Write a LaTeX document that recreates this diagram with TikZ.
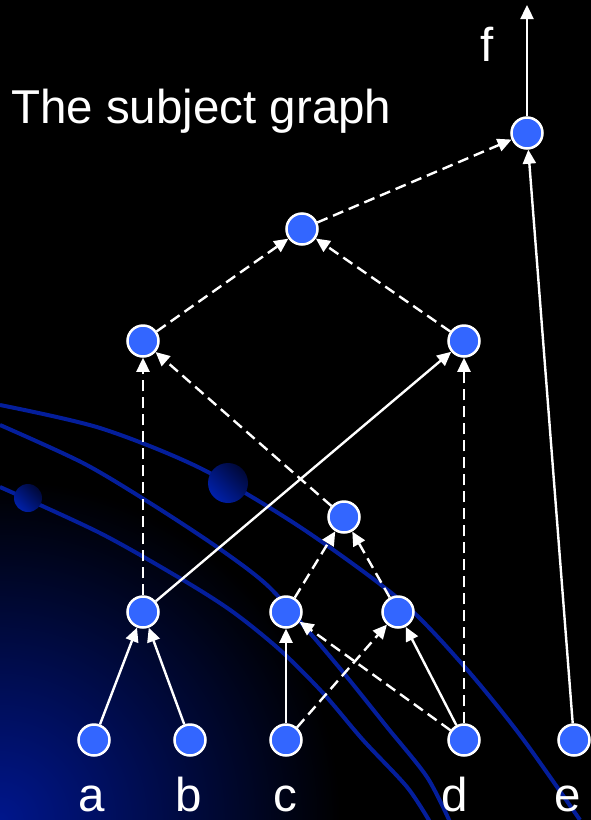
\documentclass[tikz,border=0pt]{standalone}
\usepackage{fontspec}
\setmainfont{Liberation Sans}
\usetikzlibrary{arrows.meta}
\definecolor{nodeBlue}{RGB}{51, 102, 255}
\definecolor{curveBlue}{RGB}{4, 30, 155}
\definecolor{glowBlue}{RGB}{0, 22, 140}
\definecolor{ballLight}{RGB}{0, 32, 170}
\definecolor{ballDark}{RGB}{0, 8, 55}

\tikzset{
  gate/.style={circle, fill=nodeBlue, draw=white, line width=2.5pt, minimum size=31pt, inner sep=0pt},
  wire/.style={white, line width=2.4pt, -{Triangle[length=14pt, width=13pt]}},
  cover/.style={wire, dash pattern=on 11pt off 6pt},
  lbl/.style={text=white, font=\fontsize{47.5}{50}\selectfont, inner sep=0pt, anchor=base},
  swirl/.style={curveBlue, line width=4pt},
}

\begin{document}
\begin{tikzpicture}[x=1pt, y=-1pt]
      \useasboundingbox (0,0) rectangle (591,820);
      \fill[black] (0,0) rectangle (591,820);

      % background glow and curves
      \begin{scope}
        \clip (0,0) rectangle (591,820);
        \shade[inner color=glowBlue, outer color=black] (0,820) circle (340pt);
        \draw[swirl] plot[smooth] coordinates {(0,405) (100,428) (200,468) (300,527) (400,600) (463,665) (520,735) (580,820)};
        \draw[swirl] plot[smooth] coordinates {(0,425) (83,463) (150,503) (217,547) (267,585) (310,633) (347,677) (387,727) (427,777) (450,822)};
        \draw[swirl] plot[smooth] coordinates {(0,487) (100,533) (183,580) (233,612) (280,650) (323,693) (363,740) (407,787) (430,822)};
      \end{scope}
      \shade[top color=ballDark, bottom color=ballLight, shading angle=-45] (228,483) circle (20pt);
      \shade[top color=ballDark, bottom color=ballLight, shading angle=-45] (28,498) circle (14pt);

      \node[lbl, anchor=base west] (title) at (11,123) {The subject graph};

      % inputs
      \node[gate] (a) at (94,740) {};
      \node[gate] (b) at (190,740) {};
      \node[gate] (c) at (286,740) {};
      \node[gate] (d) at (464,740) {};
      \node[gate] (e) at (574,740) {};
      \node[lbl] (la) at (92,811) {a};
      \node[lbl] (lb) at (189,811) {b};
      \node[lbl] (lc) at (285,811) {c};
      \node[lbl] (ld) at (455,811) {d};
      \node[lbl] (le) at (568,811) {e};

      % inner gates
      \node[gate] (g1) at (143,612) {};
      \node[gate] (g2) at (286,612) {};
      \node[gate] (g3) at (398,612) {};
      \node[gate] (g4) at (344,517) {};
      \node[gate] (g5) at (143,341) {};
      \node[gate] (g6) at (464,341) {};
      \node[gate] (g7) at (302,229) {};
      \node[gate] (g8) at (527,133) {};
      \coordinate (fout) at (527,5);
      \node[lbl] (lf) at (487,61) {f};

      \draw[wire] (a) -- (g1);
      \draw[wire] (b) -- (g1);
      \draw[wire] (c) -- (g2);
      \draw[cover] (c) -- (g3);
      \draw[cover] (d) -- (g2);
      \draw[wire] (d) -- (g3);
      \draw[cover] (d) -- (g6);
      \draw[cover] (g2) -- (g4);
      \draw[cover] (g3) -- (g4);
      \draw[cover] (g4) -- (g5);
      \draw[cover] (g1) -- (g5);
      \draw[wire] (g1) -- (g6);
      \draw[cover] (g5) -- (g7);
      \draw[cover] (g6) -- (g7);
      \draw[cover] (g7) -- (g8);
      \draw[wire] (e) -- (g8);
      \draw[wire] (g8) -- (fout);
    \end{tikzpicture}
\end{document}
